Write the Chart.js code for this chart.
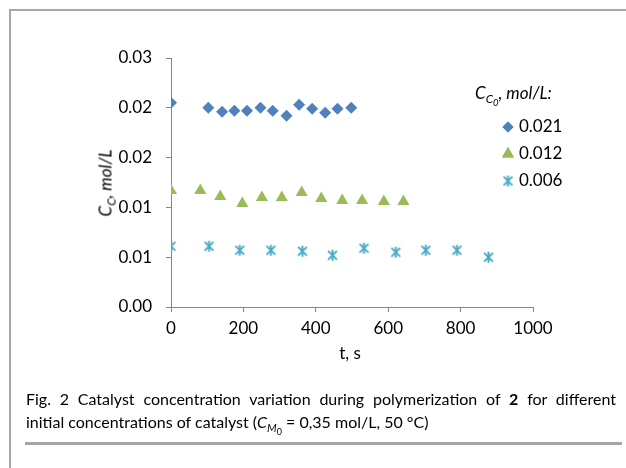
<!DOCTYPE html>
<html>
<head>
<meta charset="utf-8">
<script src="https://cdn.jsdelivr.net/npm/chart.js@4/dist/chart.umd.min.js"></script>
<style>
  html, body { margin: 0; padding: 0; background: #fff; }
  body { width: 626px; height: 468px; position: relative; overflow: hidden; font-family: Lato, "Open Sans", sans-serif; color: #000; }
  #chart { position: absolute; left: 0; top: 0; }
  .frame-top { position: absolute; left: 9px; top: 9px; width: 617px; height: 2px; background: #a8a8a8; }
  .frame-left { position: absolute; left: 9px; top: 9px; width: 2px; height: 459px; background: #a8a8a8; }
  .rule { position: absolute; left: 25px; top: 442px; width: 597px; height: 3px; background: #a5a5a5; }
  .ytitle { position: absolute; left: 105px; top: 183px; transform: translate(-50%, -50%) rotate(-90deg); font-size: 17px; font-style: italic; white-space: nowrap; }
  .xtitle { position: absolute; left: 350px; top: 352px; transform: translate(-50%, -50%); font-size: 17px; white-space: nowrap; }
  .legend-title { position: absolute; left: 475px; top: 82px; font-size: 17px; font-style: italic; white-space: nowrap; }
  sub { font-size: 70%; vertical-align: -0.35em; line-height: 0; }
  sub sub { font-size: 80%; }
  .legend { position: absolute; left: 500px; top: 112px; font-size: 17px; }
  .legend div { height: 27px; display: flex; align-items: center; }
  .legend canvas { margin-right: 3px; }
  .cap { position: absolute; left: 26px; width: 590px; font-size: 16px; white-space: nowrap; }
  .cap1 { top: 389px; text-align: justify; text-align-last: justify; white-space: normal; }
  .cap2 { top: 412px; }
</style>
</head>
<body>
<canvas id="chart" width="626" height="468"></canvas>
<div class="frame-top"></div>
<div class="frame-left"></div>
<div class="ytitle">C<sub>C</sub>, mol/L</div>
<div class="xtitle">t, s</div>
<div class="legend-title">C<sub>C<sub>0</sub></sub>, mol/L:</div>
<div class="legend" id="legend"></div>
<div class="cap cap1">Fig. 2 Catalyst concentration variation during polymerization of <b>2</b> for different</div>
<div class="cap cap2">initial concentrations of catalyst (<i>C</i><sub><i>M</i><sub>0</sub></sub> = 0,35 mol/L, 50 °C)</div>
<div class="rule"></div>
<script>
// series: time (s) and catalyst concentration (mol/L)
const t021 = [0, 103, 141, 175, 210, 247, 281, 319, 354, 390, 426, 460, 498];
const c021 = [0.0205, 0.0200, 0.0196, 0.0197, 0.0197, 0.0200, 0.0197, 0.0192, 0.0203, 0.0199, 0.0195, 0.0199, 0.0200];

const t012 = [0, 81, 136, 197, 251, 306, 361, 415, 473, 528, 588, 642];
const c012 = [0.0117, 0.0117, 0.0111, 0.0104, 0.0110, 0.0110, 0.0115, 0.0109, 0.0107, 0.0107, 0.0106, 0.0106];

const t006 = [0, 105, 190, 276, 363, 446, 533, 621, 704, 790, 877];
const c006 = [0.0061, 0.0061, 0.0057, 0.0057, 0.0056, 0.0052, 0.0059, 0.0055, 0.0057, 0.0057, 0.0050];

const seriesLabels = ["0.021", "0.012", "0.006"];
const yTickLabels = ["0.00", "0.01", "0.01", "0.02", "0.02", "0.03"]; // as printed (rounded)

const BLUE = "#4F81BD", GREEN = "#9BBB59", CYAN = "#4BACC6";

const pts = (xs, ys) => xs.map((x, i) => ({ x, y: ys[i] }));

// Excel-style asterisk marker (X plus vertical bar)
function asterisk(color, r) {
  const cv = document.createElement("canvas");
  const s = Math.ceil(r * 2 + 4);
  cv.width = cv.height = s;
  const g = cv.getContext("2d");
  const m = s / 2, d = r * 0.8;
  g.strokeStyle = color; g.lineWidth = 2; g.lineCap = "butt";
  g.beginPath();
  g.moveTo(m - d, m - d); g.lineTo(m + d, m + d);
  g.moveTo(m + d, m - d); g.lineTo(m - d, m + d);
  g.moveTo(m, m - r); g.lineTo(m, m + r);
  g.stroke();
  return cv;
}
const star = asterisk(CYAN, 5.5);

const datasets = [
  { label: seriesLabels[0], data: pts(t021, c021), pointStyle: "rectRot", pointRadius: 6,
    backgroundColor: BLUE, borderColor: BLUE, borderWidth: 0 },
  { label: seriesLabels[1], data: pts(t012, c012), pointStyle: "triangle", pointRadius: 7,
    backgroundColor: GREEN, borderColor: GREEN, borderWidth: 0 },
  { label: seriesLabels[2], data: pts(t006, c006), pointStyle: star,
    backgroundColor: CYAN, borderColor: CYAN },
];

const tickFont = { family: "Lato", size: 17 };
const axisColor = "#868686";

new Chart(document.getElementById("chart").getContext("2d"), {
  type: "scatter",
  data: { datasets },
  options: {
    responsive: false,
    animation: false,
    layout: { padding: { left: 111, top: 58, right: 93, bottom: 121 } },
    plugins: { legend: { display: false }, tooltip: { enabled: false } },
    scales: {
      x: {
        type: "linear", min: 0, max: 1000,
        ticks: { stepSize: 200, color: "#000", font: tickFont, padding: 6, callback: v => String(v) },
        grid: { drawOnChartArea: false, tickLength: 5, color: axisColor },
        border: { color: axisColor },
        afterFit: s => { s.height = 40; },
      },
      y: {
        type: "linear", min: 0, max: 0.025,
        ticks: { stepSize: 0.005, color: "#000", font: tickFont, padding: 14,
                 callback: (v, i) => yTickLabels[i] },
        grid: { drawOnChartArea: false, tickLength: 5, color: axisColor },
        border: { color: axisColor },
        afterFit: s => { s.width = 60; },
      },
    },
  },
});

// legend with the same markers
const legend = document.getElementById("legend");
datasets.forEach(ds => {
  const row = document.createElement("div");
  const cv = document.createElement("canvas");
  cv.width = 16; cv.height = 16;
  const g = cv.getContext("2d");
  g.fillStyle = ds.backgroundColor; g.strokeStyle = ds.borderColor; g.lineWidth = 0;
  const r = ds.pointStyle === "triangle" ? 7 : 5.5;
  Chart.helpers.drawPoint(g, { pointStyle: ds.pointStyle, radius: r, borderWidth: 0 }, 8, 9);
  g.fill();
  row.appendChild(cv);
  row.appendChild(document.createTextNode(ds.label));
  legend.appendChild(row);
});
</script>
</body>
</html>
